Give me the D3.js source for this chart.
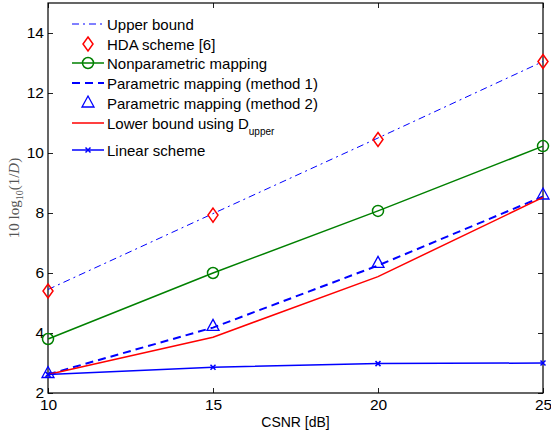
<!DOCTYPE html>
<html>
<head>
<meta charset="utf-8">
<script src="https://cdn.jsdelivr.net/npm/d3@7"></script>
<style>
  body { margin: 0; background: #fff; }
  svg text { font-family: "Liberation Sans", Arial, sans-serif; }
</style>
</head>
<body>
<div id="chart"></div>
<script>
// data
var csnr = [10, 15, 20, 25];
var upperBound = [5.45, 7.98, 10.5, 13.05];
var hdaScheme = [5.4, 7.93, 10.45, 13.05];
var nonParametric = [3.8, 6.0, 8.07, 10.23];
var paramMethod1 = [2.62, 4.18, 6.25, 8.55];
var paramMethod2 = [2.65, 4.22, 6.32, 8.6];
var lowerBound = [2.62, 3.86, 5.88, 8.52];
var linearScheme = [2.62, 2.86, 2.98, 3.0];
var xTicks = [10, 15, 20, 25];
var yTicks = [2, 4, 6, 8, 10, 12, 14];

var svgWidth = 551;
var svgHeight = 431;
var margin = { top: 3, right: 8, bottom: 38, left: 48 };
var chartWidth = svgWidth - margin.left - margin.right;
var chartHeight = svgHeight - margin.top - margin.bottom;

var svg = d3.select("#chart")
  .append("svg")
  .attr("width", svgWidth)
  .attr("height", svgHeight);

var g = svg.append("g")
  .attr("transform", `translate(${margin.left}, ${margin.top})`);

var xScale = d3.scaleLinear().domain([10, 25]).range([0, chartWidth]);
var yScale = d3.scaleLinear().domain([2, 15]).range([chartHeight, 0]);

// axes, ticks pointing inward like matlab
g.append("g")
  .attr("transform", `translate(0, ${chartHeight})`)
  .call(d3.axisBottom(xScale).tickValues(xTicks).tickSize(-5).tickPadding(6).tickSizeOuter(0))
  .call(a => a.selectAll("text").attr("font-size", 15.5).attr("fill", "#000"));
g.append("g")
  .call(d3.axisTop(xScale).tickValues(xTicks).tickSize(-5).tickSizeOuter(0))
  .call(a => a.selectAll("text").remove());
g.append("g")
  .call(d3.axisLeft(yScale).tickValues(yTicks).tickSize(-5).tickPadding(4).tickSizeOuter(0))
  .call(a => a.selectAll("text").attr("font-size", 15.5).attr("fill", "#000"));
g.append("g")
  .attr("transform", `translate(${chartWidth}, 0)`)
  .call(d3.axisRight(yScale).tickValues(yTicks).tickSize(-5).tickSizeOuter(0))
  .call(a => a.selectAll("text").remove());
g.selectAll(".domain").remove();
g.selectAll(".tick line").attr("stroke", "#222");

g.append("rect")
  .attr("width", chartWidth)
  .attr("height", chartHeight)
  .attr("fill", "none")
  .attr("stroke", "#000")
  .attr("stroke-width", 1.2);

// axis labels
svg.append("text")
  .attr("x", margin.left + chartWidth / 2)
  .attr("y", 427)
  .attr("text-anchor", "middle")
  .attr("font-size", 14)
  .text("CSNR [dB]");

var ylab = svg.append("text")
  .attr("transform", `translate(19, ${margin.top + chartHeight / 2}) rotate(-90)`)
  .attr("text-anchor", "middle")
  .attr("fill", "#555")
  .style("font-family", "'Liberation Serif', 'DejaVu Serif', serif")
  .attr("font-size", 15);
ylab.append("tspan").text("10 log");
ylab.append("tspan").attr("font-size", 10).attr("dy", 4).text("10");
ylab.append("tspan").attr("dy", -4).text("(1/");
ylab.append("tspan").attr("font-style", "italic").text("D");
ylab.append("tspan").text(")");

var line = d3.line()
  .x((d, i) => xScale(csnr[i]))
  .y(d => yScale(d));

function drawLine(values, color, width, dash) {
  g.append("path")
    .datum(values)
    .attr("d", line)
    .attr("fill", "none")
    .attr("stroke", color)
    .attr("stroke-width", width)
    .attr("stroke-dasharray", dash || null);
}

function marker(sel, type, color) {
  if (type === "diamond") {
    sel.append("path").attr("d", "M0,-7L5,0L0,7L-5,0Z")
      .attr("fill", "none").attr("stroke", color).attr("stroke-width", 1.5);
  } else if (type === "circle") {
    sel.append("circle").attr("r", 5.5)
      .attr("fill", "none").attr("stroke", color).attr("stroke-width", 1.5);
  } else if (type === "triangle") {
    sel.append("path").attr("d", "M0,-7L6,4L-6,4Z")
      .attr("fill", "none").attr("stroke", color).attr("stroke-width", 1.3);
  } else if (type === "x") {
    sel.append("path").attr("d", "M-2.5,-2.5L2.5,2.5M-2.5,2.5L2.5,-2.5")
      .attr("fill", "none").attr("stroke", color).attr("stroke-width", 1.5);
  }
}

function drawMarkers(values, type, color) {
  values.forEach(function(v, i) {
    var m = g.append("g").attr("transform", `translate(${xScale(csnr[i])}, ${yScale(v)})`);
    marker(m, type, color);
  });
}

drawLine(upperBound, "#0000ff", 1, "7,4,2,4");
drawMarkers(hdaScheme, "diamond", "#ff0000");
drawLine(nonParametric, "#008000", 1.5);
drawMarkers(nonParametric, "circle", "#008000");
drawLine(paramMethod1, "#0000ff", 2, "8,5");
drawMarkers(paramMethod2, "triangle", "#0000ff");
drawLine(lowerBound, "#ff0000", 1.5);
drawLine(linearScheme, "#0000ff", 1.5);
drawMarkers(linearScheme, "x", "#0000ff");

// legend
var legendItems = [
  { label: "Upper bound", color: "#0000ff", width: 1, dash: "7,4,2,4", line: true },
  { label: "HDA scheme [6]", color: "#ff0000", marker: "diamond" },
  { label: "Nonparametric mapping", color: "#008000", width: 1.5, line: true, marker: "circle" },
  { label: "Parametric mapping (method 1)", color: "#0000ff", width: 2, dash: "8,5", line: true },
  { label: "Parametric mapping (method 2)", color: "#0000ff", marker: "triangle" },
  { label: "Lower bound using D", sub: "upper", color: "#ff0000", width: 1.5, line: true },
  { label: "Linear scheme", color: "#0000ff", width: 1.5, line: true, marker: "x" }
];
var legendY = [24, 44, 63, 83, 103, 123, 150];

var legend = svg.append("g");
legendItems.forEach(function(d, i) {
  var row = legend.append("g").attr("transform", `translate(0, ${legendY[i]})`);
  if (d.line) {
    row.append("line")
      .attr("x1", 72).attr("x2", 104)
      .attr("stroke", d.color)
      .attr("stroke-width", d.width)
      .attr("stroke-dasharray", d.dash || null);
  }
  if (d.marker) {
    var m = row.append("g").attr("transform", "translate(88, 0)");
    marker(m, d.marker, d.color);
  }
  var t = row.append("text")
    .attr("x", 107)
    .attr("y", 5.5)
    .attr("font-size", 15)
    .text(d.label);
  if (d.sub) {
    t.append("tspan").attr("font-size", 10).attr("dy", 6).text(d.sub);
  }
});
</script>
</body>
</html>
